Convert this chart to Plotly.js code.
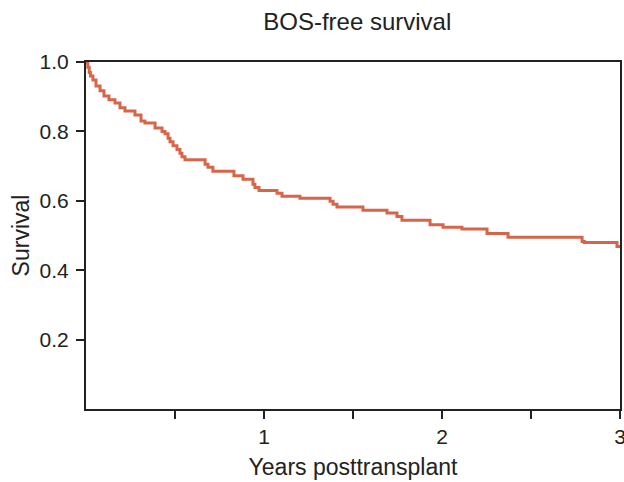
<!DOCTYPE html>
<html>
<head>
<meta charset="utf-8">
<script src="https://cdn.plot.ly/plotly-3.0.1.min.js"></script>
<style>html,body{margin:0;padding:0;background:#fff;}#chart{width:624px;height:482px;}</style>
</head>
<body>
<div id="chart"></div>
<script>
// Kaplan-Meier step curve: time (years) and survival after each drop
const years = [0, 0.010, 0.018, 0.025, 0.039, 0.056, 0.079, 0.101, 0.129, 0.163, 0.191, 0.219, 0.275, 0.309, 0.331, 0.388, 0.427, 0.444, 0.461, 0.472, 0.489, 0.511, 0.528, 0.539, 0.556, 0.669, 0.685, 0.713, 0.831, 0.882, 0.938, 0.949, 0.972, 1.073, 1.101, 1.202, 1.371, 1.388, 1.410, 1.556, 1.691, 1.747, 1.775, 1.933, 2.006, 2.112, 2.253, 2.371, 2.787, 2.800, 2.983, 3.0];
const survival = [1.0, 0.985, 0.970, 0.960, 0.948, 0.931, 0.917, 0.902, 0.891, 0.882, 0.868, 0.859, 0.847, 0.830, 0.824, 0.810, 0.800, 0.793, 0.780, 0.770, 0.759, 0.748, 0.737, 0.727, 0.718, 0.705, 0.697, 0.685, 0.672, 0.662, 0.648, 0.638, 0.630, 0.622, 0.613, 0.607, 0.599, 0.590, 0.582, 0.573, 0.565, 0.555, 0.544, 0.531, 0.524, 0.519, 0.506, 0.495, 0.483, 0.480, 0.468, 0.468];
const xTickVals = [0.5, 1, 1.5, 2, 2.5, 3];
const xTickText = ['', '1', '', '2', '', '3'];
const yTickVals = [0.2, 0.4, 0.6, 0.8, 1.0];
const yTickText = ['0.2', '0.4', '0.6', '0.8', '1.0'];

const font = 'Liberation Sans, Arial, Helvetica, sans-serif';
const trace = {
  x: years, y: survival, type: 'scatter', mode: 'lines',
  line: {shape: 'hv', color: '#d7654a', width: 3},
  hoverinfo: 'skip', showlegend: false
};
const axisCommon = {
  showgrid: false, zeroline: false, showline: true, linecolor: '#222', linewidth: 2,
  mirror: true, ticks: 'outside', ticklen: 8, tickwidth: 2, tickcolor: '#222',
  tickfont: {family: font, size: 21, color: '#222'}, ticklabeloverflow: 'allow'
};
const layout = {
  width: 624, height: 482,
  margin: {l: 86, r: 4, t: 62, b: 73},
  paper_bgcolor: '#fff', plot_bgcolor: '#fff',
  font: {family: font, color: '#222'},
  title: {text: 'BOS-free survival', font: {family: font, size: 24, color: '#222'},
          x: 0.508, xanchor: 'center', y: 0.956, yanchor: 'middle', xref: 'paper', yref: 'container'},
  xaxis: Object.assign({}, axisCommon, {
    range: [0, 3], tickmode: 'array', tickvals: xTickVals, ticktext: xTickText,
    title: {text: 'Years posttransplant', font: {family: font, size: 23, color: '#222'}, standoff: 12}
  }),
  yaxis: Object.assign({}, axisCommon, {
    range: [0, 1.0], tickmode: 'array', tickvals: yTickVals, ticktext: yTickText,
    ticklabelstandoff: 3,
    title: {text: 'Survival', font: {family: font, size: 23, color: '#222'}, standoff: 4}
  })
};
Plotly.newPlot('chart', [trace], layout, {displayModeBar: false, staticPlot: true});
</script>
</body>
</html>
